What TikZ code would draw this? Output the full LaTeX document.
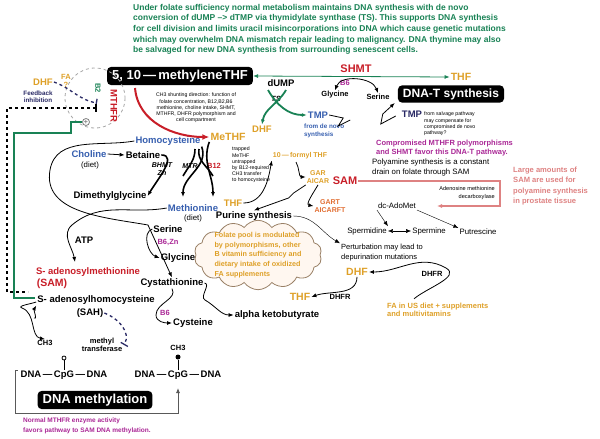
\documentclass[tikz,border=0pt]{standalone}
\usepackage{fontspec}
\setmainfont{Liberation Sans}
\usetikzlibrary{arrows.meta,shapes.symbols,calc}
\definecolor{fgreen}{RGB}{25,130,85}
\definecolor{fgold}{RGB}{222,160,40}
\definecolor{fblue}{RGB}{55,95,175}
\definecolor{fred}{RGB}{200,30,40}
\definecolor{fpurple}{RGB}{170,40,150}
\definecolor{fpink}{RGB}{222,130,130}
\definecolor{fnavy}{RGB}{40,40,100}
\definecolor{forange}{RGB}{225,110,50}
\begin{document}
\begin{tikzpicture}[
    x=1pt, y=-1pt,
    >={Latex[length=5pt,width=4pt]},
    every node/.style={inner sep=1pt, font=\fontsize{7.5}{8.5}\selectfont\bfseries},
    big/.style={font=\fontsize{9.5}{10}\selectfont\bfseries},
    tiny_txt/.style={font=\fontsize{5.2}{6.2}\selectfont, align=left},
    title_box/.style={fill=black, text=white, rounded corners=4pt, inner xsep=5pt, inner ysep=3pt, font=\fontsize{13}{14}\selectfont\bfseries},
    heavy/.style={->, line width=1.6pt},
    inhib/.style={-|, dashed, line width=1.3pt, color=fnavy}
]
\useasboundingbox (0,0) rectangle (600,439);

% --- header notes ---
\node[anchor=north west, text=fgreen, align=left, font=\fontsize{8.5}{10.6}\selectfont\bfseries] (intro) at (132,3)
  {Under folate sufficiency normal metabolism maintains DNA synthesis with de novo\\
   conversion of dUMP --> dTMP via thymidylate synthase (TS). This supports DNA synthesis\\
   for cell division and limits uracil misincorporations into DNA which cause genetic mutations\\
   which may overwhelm DNA mismatch repair leading to malignancy. DNA thymine may also\\
   be salvaged for new DNA synthesis from surrounding senescent cells.};

% --- folate cycle ---
\node[title_box] (methylene) at (180,76) {5, 10\,---\,methyleneTHF};
\node[tiny_txt, align=center] (shunt) at (196,108) {CH3 shunting direction: function of\\folate concentration, B12,B2,B6\\methionine, choline intake, SHMT,\\MTHFR, DHFR polymorphism and\\cell compartment};
\node[text=fgold, big] (dhf_fb) at (43,82) {DHF};
\node[text=fgold, align=center] (fa) at (66,81) {FA\\?};
\node[text=fnavy, align=center, font=\fontsize{6.3}{7.3}\selectfont\bfseries] (feedback) at (38,97) {Feedback\\inhibition};
\draw[gray!70, dashed, thick] (95,98) circle (30);
\node[text=fgreen, rotate=-90] (b2) at (98,88) {B2};
\node[text=fred, rotate=-90, big] (mthfr) at (114,106) {MTHFR};
\node[draw=gray, thick, circle, inner sep=0pt, minimum size=7pt, font=\fontsize{7}{7}\selectfont\bfseries, text=gray] (plus) at (86,122) {+};
\coordinate (fb_end) at (97,103);
\draw[inhib] (dhf_fb.east) to[out=-20, in=170] (fb_end);

\node[text=fgold, font=\fontsize{10.5}{11}\selectfont\bfseries] (methf) at (228,137) {MeTHF};
\node[text=fblue, big] (homocys) at (168,141) {Homocysteine};
\draw[->, line width=2pt, fred, >={Latex[length=7pt,width=6pt]}] (135,88) to[out=-85, in=180] (methf.west);

\node[big] (dump) at (281,83) {dUMP};
\node[font=\fontsize{7.5}{8}\selectfont\bfseries\itshape] (ts) at (276,99) {TS};
\node[text=fgold, big] (dhf_ts) at (262,129) {DHF};
\node[text=fblue, big] (tmp_novo) at (318,115) {TMP};
\node[text=fblue, align=left, font=\fontsize{6.3}{7.3}\selectfont\bfseries, anchor=west] (novo) at (303,131) {from de novo\\synthesis};
\draw[->, line width=1.8pt, fgreen] (268,90) to[out=-60, in=180] (tmp_novo.west);
\draw[->, line width=1.8pt, fgreen] (286,90) to[out=-120, in=80] (dhf_ts.north);

\node[text=fred, font=\fontsize{11}{12}\selectfont\bfseries] (shmt) at (356,69) {SHMT};
\node[text=fpurple] (b6a) at (345,83) {B6};
\node (glycine_a) at (335,95) {Glycine};
\node (serine_a) at (378,97) {Serine};
\draw[<->, thick] (glycine_a.north) to[out=70, in=110] (serine_a.north);
\node[text=fgold, font=\fontsize{10.5}{11}\selectfont\bfseries] (thf_top) at (461,77) {THF};
\draw[<->, thick, fgreen] (methylene.east) -- (thf_top.west);

\node[title_box, font=\fontsize{12}{13}\selectfont\bfseries] (dnat) at (451,94) {DNA-T synthesis};
\node[text=fnavy, big] (tmp_salv) at (412,114) {TMP};
\node[tiny_txt, anchor=north west] (salvage) at (423,111) {from salvage pathway\\may compensate for\\compromised de novo\\pathway?};
\draw[thick] (tmp_novo.east) -- ++(14,3) -- ++(-5,8) -- ++(12,-6);
\draw[->, thick] (tmp_salv.west) ++(-5,2) -- ++(-15,8) -- ++(2,-10) -- ++(12,-11);

\node[text=fpurple, align=left, anchor=west] (compromised) at (375,148) {Compromised MTHFR polymorphisms\\and SHMT favor this DNA-T pathway.};
\node[font=\fontsize{7.8}{10}\selectfont, align=left, anchor=west] (polyamine) at (371,167) {Polyamine synthesis is a constant\\drain on folate through SAM};

% --- methionine cycle ---
\node[tiny_txt] (trapped) at (251,165) {trapped\\MeTHF\\untrapped\\by B12-required\\CH3 transfer\\to homocysteine};
\node[text=fblue, big] (choline) at (89,154) {Choline};
\node[font=\fontsize{7.8}{8}\selectfont] (diet_a) at (90,165) {(diet)};
\node[big] (betaine) at (143,155) {Betaine};
\draw[->, thick] (choline.east) -- (betaine.west);
\node[font=\fontsize{7}{7.5}\selectfont\bfseries\itshape, align=center] (bhmt) at (162,169) {BHMT\\Zn};
\node[font=\fontsize{7}{7.5}\selectfont\bfseries\itshape] (mtr) at (190,166) {MTR};
\node[text=fred] (b12) at (214,166) {B12};
\node[big] (dmg) at (110,196) {Dimethylglycine};
\node[text=fblue, big] (methionine) at (193,208) {Methionine};
\node[font=\fontsize{7.8}{8}\selectfont] (diet_b) at (193,218) {(diet)};
\draw[heavy] (betaine.east) to[out=0, in=60] (dmg.east);
\draw[heavy] (homocys.south east) to[out=-70, in=90] (183,197);
\draw[heavy] (methf.south west) to[out=-110, in=90] (213,197);
\draw[line width=1.6pt] (195,149) to[out=-90, in=60] (183,176);
\draw[line width=1.6pt] (199,149) to[out=-100, in=120] (213,176);

\node[text=fgold, big] (thf_mid) at (233,203) {THF};
\node[text=fgold, font=\fontsize{7}{8}\selectfont\bfseries] (formyl) at (300,156) {10\,---\,formyl THF};
\node[text=fgold, align=center, font=\fontsize{7}{8.5}\selectfont\bfseries] (gar) at (318,177) {GAR\\AICAR};
\node[text=forange, align=center, font=\fontsize{7}{8.5}\selectfont\bfseries] (gart) at (330,206) {GART\\AICARFT};
\node[text=fred, font=\fontsize{11}{12}\selectfont\bfseries] (sam_r) at (345,181) {SAM};
\node[big] (purine) at (254,216) {Purine synthesis};
\draw[->, thick] (thf_mid.east) to[out=0, in=-100] (formyl.south west);
\draw[->, thick] (296,162) to[out=-60, in=180] (gar.west);
\draw[->, thick] (gar.south) to[out=-120, in=170] (gart.west) ;
\draw[->, thick] (gar.south west) -- ++(-12,8) -- ++(-5,5) -- (purine.north);

\draw[->, line width=2pt, fpink] (sam_r.east) -- (500,181) -- (500,206) -- (437,206);
\node[tiny_txt, align=right, anchor=east, font=\fontsize{5.6}{8}\selectfont] (adodc) at (496,193) {Adenosine methionine\\decarboxylase};
\node[text=fpink, align=left, anchor=west, font=\fontsize{7.6}{10.5}\selectfont\bfseries] (prostate) at (512,186) {Large amounts of\\SAM are used for\\polyamine synthesis\\in prostate tissue};
\node[font=\fontsize{7.8}{8}\selectfont] (adomet) at (397,206) {dc-AdoMet};
\node[font=\fontsize{7.8}{8}\selectfont] (spermidine) at (367,231) {Spermidine};
\node[font=\fontsize{7.8}{8}\selectfont] (spermine) at (429,231) {Spermine};
\node[font=\fontsize{7.8}{8}\selectfont] (putrescine) at (478,232) {Putrescine};
\draw[<->, thin] (spermidine.east) -- (spermine.west);
\draw[->, thin] (adomet.south west) -- (spermidine.north east);
\draw[->, thin] (adomet.south east) -- (putrescine.north west);

\node[font=\fontsize{7.5}{10}\selectfont, align=left, anchor=west] (perturb) at (340,253) {Perturbation may lead to\\depurination mutations};
\draw[->, thin] (purine.east) to[out=0, in=150] (perturb.north west);
\node[text=fgold, font=\fontsize{10.5}{11}\selectfont\bfseries] (dhf_low) at (357,272) {DHF};
\node (dhfr_a) at (432,274) {DHFR};
\node[text=fgold, align=left, anchor=west] (fa_diet) at (386,310) {FA in US diet + supplements\\and multivitamins};
\draw[->, thick] (fa_diet.north west) ++(28,-3) to[out=40, in=-30] (446,268) to[out=150, in=0] (dhf_low.east);
\node[text=fgold, font=\fontsize{10.5}{11}\selectfont\bfseries] (thf_low) at (300,297) {THF};
\node (dhfr_b) at (340,297) {DHFR};
\draw[->, thick] (dhf_low.south) to[out=-90, in=20] (thf_low.east);
\node[big] (aketo) at (277,315) {alpha ketobutyrate};

\node[cloud, cloud puffs=14, cloud puff arc=110, aspect=2.2, draw=gray!60!brown, fill=orange!6, thick, text=fgold, align=left, inner sep=-3pt, font=\fontsize{7.2}{9.8}\selectfont\bfseries] (pool) at (258,255)
  {Folate pool is modulated\\by polymorphisms, other\\B vitamin sufficiency and\\dietary intake of oxidized\\FA supplements};

% --- transsulfuration and methylation ---
\node[big] (atp) at (84,240) {ATP};
\node[big] (serine_b) at (168,229) {Serine};
\node[text=fpurple] (b6zn) at (168,242) {B6,Zn};
\node[big] (glycine_b) at (178,258) {Glycine};
\node[text=fred, big] (sam) at (88,272) {S- adenosylmethionine};
\node[text=fred, font=\fontsize{10.5}{11}\selectfont\bfseries] (sam_b) at (52,284) {(SAM)};
\node[big] (cysta) at (172,283) {Cystathionine};
\node[big] (sah) at (96,300) {S- adenosylhomocysteine};
\node[big] (sah_b) at (90,313) {(SAH)};
\node[text=fpurple] (b6c) at (165,313) {B6};
\node[big] (cysteine) at (193,323) {Cysteine};
\node (ch3_a) at (45,343) {CH3};
\node[align=center] (mtrans) at (102,345) {methyl\\transferase};
\node (ch3_b) at (178,348) {CH3};

\draw[->, thick] (methionine.west) to[out=190, in=40] (72,225) to[out=-140, in=100] (75,262);
\draw[->, thick] (homocys.west) to[out=190, in=80] (50,170) to[out=-100, in=170] (148,225) -- (cysta.north);
\draw[->, thick] (serine_b.west) to[out=200, in=160] (glycine_b.west);
\draw[->, thick] (cysta.south) to[out=-60, in=90] (156,315) to[out=-90, in=180] (cysteine.west);
\draw[->, thick] (cysta.east) to[out=-10, in=150] (205,300) to[out=-30, in=180] (aketo.west);
\draw[->, thick] (sah.west) ++(0,2) to[out=200, in=160] (22,308) to[out=-20, in=170] (ch3_a.north);
\draw[->, thick] (34,318) to[out=-40, in=-120] (sah.south west);
\coordinate (mt_end) at (124,345);
\draw[inhib] (sah_b.east) to[out=-20, in=60] (mt_end);

% --- DNA methylation ---
\node[big] (dna_a) at (64,375) {DNA\,---\,CpG\,---\,DNA};
\node[big] (dna_b) at (178,375) {DNA\,---\,CpG\,---\,DNA};
\node[draw, thick, circle, fill=white, inner sep=0pt, minimum size=4pt] (open_me) at (64,358) {};
\node[circle, fill=black, inner sep=0pt, minimum size=5pt] (full_me) at (178,357) {};
\draw[thick] (dna_a.north) -- (open_me.south);
\draw[thick] (dna_b.north) -- (full_me.south);
\node[title_box, font=\fontsize{13}{14}\selectfont\bfseries] (methylation) at (95,400) {DNA methylation};
\coordinate (brk) at (15,370);
\draw[->, gray!70!black, thick] (brk) -- ++(3,0) (brk) -- (15,413) -- (178,413) -- (178,388);
\node[text=fpurple, align=left, anchor=west, font=\fontsize{6.5}{10}\selectfont\bfseries] (normal) at (22,426) {Normal MTHFR enzyme activity\\favors pathway to SAM DNA methylation.};

% --- feedback connectors ---
\coordinate (dash_top) at (96,108);
\draw[dashed, line width=1.3pt] (dash_top) -- (7,108) -- (7,292) -- (28,292);
\draw[line width=1.3pt] (dash_top) ++(0,-4) -- ++(0,8);
\draw[fgreen, line width=1.3pt] (plus.west) -- (71,122) -- (71,133) -- (14,133) -- (14,298) -- (35,298);
\end{tikzpicture}
\end{document}
